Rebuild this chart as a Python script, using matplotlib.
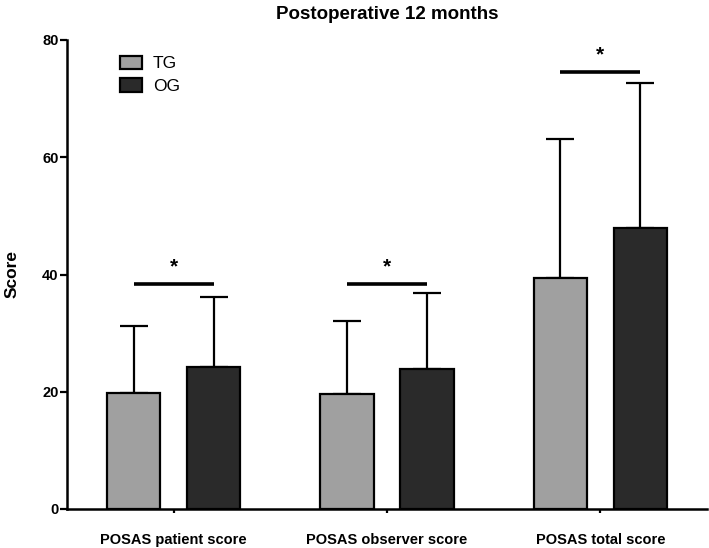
import numpy as np
import matplotlib
matplotlib.use("Agg")
import matplotlib.pyplot as plt

plt.rcParams['font.family'] = ['Liberation Sans', 'DejaVu Sans']

categories = ["POSAS patient score", "POSAS observer score", "POSAS total score"]
tg_mean = [19.8, 19.7, 39.4]
tg_sd = [11.5, 12.4, 23.7]
og_mean = [24.2, 23.9, 48.0]
og_sd = [12.0, 13.0, 24.7]
sig_y = [38.4, 38.4, 74.6]
sig_text = ["*", "*", "*"]
yticks = [0, 20, 40, 60, 80]

fig = plt.figure(figsize=(7.09, 5.48), dpi=100)
ax = fig.add_axes([67/709, 39/548, 640/709, 469/548])

x = np.arange(len(categories))
w = 0.25
off = 0.1875
ax.bar(x - off, tg_mean, w, color="#a0a0a0", edgecolor="black", linewidth=1.6, label="TG", zorder=3)
ax.bar(x + off, og_mean, w, color="#2a2a2a", edgecolor="black", linewidth=1.6, label="OG", zorder=3)
ax.errorbar(x - off, tg_mean, yerr=[np.zeros(3), tg_sd], fmt="none", ecolor="black",
            elinewidth=1.6, capsize=10, capthick=1.6, zorder=2)
ax.errorbar(x + off, og_mean, yerr=[np.zeros(3), og_sd], fmt="none", ecolor="black",
            elinewidth=1.6, capsize=10, capthick=1.6, zorder=2)

for i in range(len(categories)):
    ax.plot([x[i] - off, x[i] + off], [sig_y[i], sig_y[i]], color="black", lw=2.6, solid_capstyle="butt")
    ax.text(x[i], sig_y[i] + 1.3, sig_text[i], ha="center", va="bottom", fontsize=15, fontweight="bold")

ax.set_xlim(-0.5, 2.5)
ax.set_ylim(0, 80)
ax.set_yticks(yticks)
ax.set_xticks(x)
ax.set_xticklabels(categories, fontsize=10.5, fontweight="bold")
for t in ax.get_yticklabels():
    t.set_fontweight("bold")
    t.set_fontsize(10.5)
ax.tick_params(axis="x", length=3, width=1.6, pad=14)
ax.tick_params(axis="y", length=5, width=1.6, pad=1)
for s in ["top", "right"]:
    ax.spines[s].set_visible(False)
for s in ["left", "bottom"]:
    ax.spines[s].set_linewidth(1.8)

ax.set_ylabel("Score", fontsize=12.5, fontweight="bold", labelpad=16)
ax.set_title("Postoperative 12 months", fontsize=13.5, fontweight="bold", pad=15, x=0.5)
ax.legend(loc="upper left", bbox_to_anchor=(0.058, 1.0), frameon=False, fontsize=12.5,
          handlelength=1.3, handleheight=0.8, handletextpad=0.6, labelspacing=0.4)

fig.savefig("out.png", dpi=100)
